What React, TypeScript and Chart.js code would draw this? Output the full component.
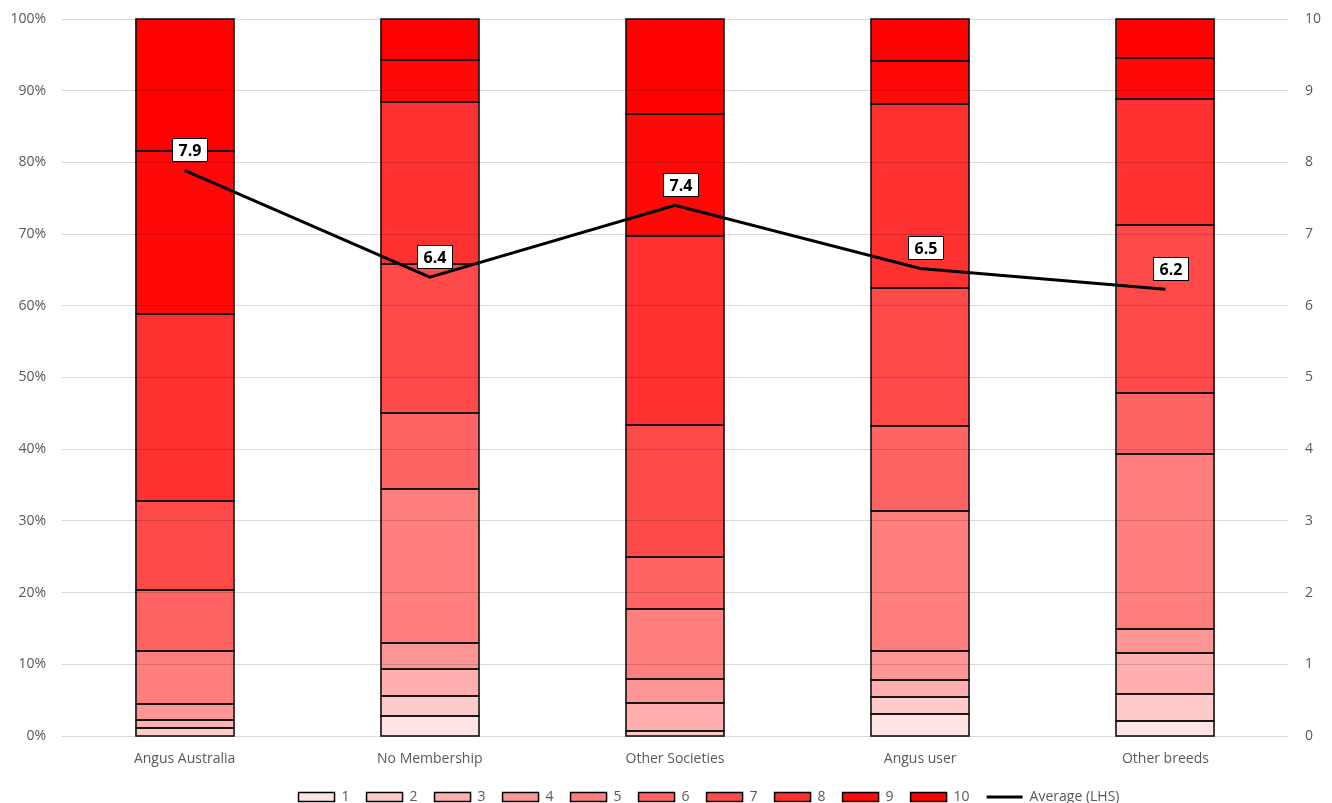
import React, { useEffect, useRef } from "react";
import { Chart, registerables } from "chart.js";

Chart.register(...registerables);

const categories = ["Angus Australia", "No Membership", "Other Societies", "Angus user", "Other breeds"];
const scoreLabels = ["1", "2", "3", "4", "5", "6", "7", "8", "9", "10"];
const s1 = [0, 2.8, 0, 3.0, 2.1];
const s2 = [1.1, 2.8, 0.7, 2.5, 3.8];
const s3 = [1.1, 3.8, 3.9, 2.3, 5.7];
const s4 = [2.2, 3.6, 3.3, 4.0, 3.3];
const s5 = [7.4, 21.5, 9.8, 19.6, 24.4];
const s6 = [8.6, 10.6, 7.3, 11.8, 8.6];
const s7 = [12.4, 20.7, 18.4, 19.3, 23.3];
const s8 = [26.1, 22.6, 26.3, 25.6, 17.6];
const s9 = [22.7, 5.9, 17.1, 6.1, 5.8];
const s10 = [18.4, 5.7, 13.2, 5.8, 5.4];
const averages = [7.89, 6.4, 7.4, 6.52, 6.23];
const averageLabels = ["7.9", "6.4", "7.4", "6.5", "6.2"];
const leftTicks = [0, 10, 20, 30, 40, 50, 60, 70, 80, 90, 100];
const rightTicks = [0, 1, 2, 3, 4, 5, 6, 7, 8, 9, 10];

const seriesValues = [s1, s2, s3, s4, s5, s6, s7, s8, s9, s10];
const seriesColors = [
  "#FFE4E4", "#FFCACA", "#FFAFAF", "#FF9696", "#FF7E7E",
  "#FF6464", "#FF4A4A", "#FF3030", "#FF0808", "#FF0000",
];

const FONT = "'Open Sans', 'Liberation Sans', sans-serif";

const borderPlugin = {
  id: "barBorders",
  afterLayout(chart: any) {
    if (chart.legend) {
      chart.legend.left += 86;
    }
  },
  afterDatasetsDraw(chart: any) {
    const ctx = chart.ctx;
    ctx.save();
    ctx.strokeStyle = "#111111";
    ctx.lineWidth = 1.6;
    chart.data.datasets.forEach((ds: any, di: number) => {
      if (ds.type !== "bar") return;
      const meta = chart.getDatasetMeta(di);
      meta.data.forEach((el: any, i: number) => {
        if (!ds.data[i]) return;
        const p = el.getProps(["x", "y", "base", "width"], true);
        const x0 = Math.round(p.x - p.width / 2);
        const x1 = Math.round(p.x + p.width / 2);
        const y0 = Math.round(Math.min(p.y, p.base));
        const y1 = Math.round(Math.max(p.y, p.base));
        ctx.strokeRect(x0, y0, x1 - x0, y1 - y0);
      });
    });
    ctx.restore();
  },
};

const labelPlugin = {
  id: "avgLabels",
  afterDraw(chart: any) {
    const idx = chart.data.datasets.length - 1;
    const meta = chart.getDatasetMeta(idx);
    const ctx = chart.ctx;
    ctx.save();
    ctx.font = `bold 16px ${FONT}`;
    ctx.textAlign = "center";
    ctx.textBaseline = "middle";
    meta.data.forEach((pt: any, i: number) => {
      const cx = pt.x + 5;
      const cy = pt.y - 21;
      const w = 35;
      const h = 23;
      const x0 = Math.round(cx - w / 2) + 0.5;
      const y0 = Math.round(cy - h / 2) + 0.5;
      ctx.fillStyle = "#ffffff";
      ctx.fillRect(x0, y0, w, h);
      ctx.strokeStyle = "#000000";
      ctx.lineWidth = 1;
      ctx.strokeRect(x0, y0, w, h);
      ctx.fillStyle = "#000000";
      ctx.fillText(averageLabels[i], x0 + w / 2, y0 + h / 2 + 1);
    });
    ctx.restore();
  },
};

export default function App() {
  const ref = useRef<HTMLCanvasElement | null>(null);
  useEffect(() => {
    document.body.style.margin = "0";
    document.body.style.overflow = "hidden";
    if (!ref.current) return;
    const barSets: any[] = seriesValues.map((vals, i) => ({
      type: "bar",
      label: scoreLabels[i],
      data: vals,
      backgroundColor: seriesColors[i],
      borderColor: "#000000",
      borderWidth: 0,
      inflateAmount: 0,
      stack: "s",
      yAxisID: "y",
      order: 1,
      categoryPercentage: 1,
      barPercentage: 0.4,
      pointStyle: "rect",
    }));
    const lineSet: any = {
      type: "line",
      label: "Average (LHS)",
      data: averages,
      borderColor: "#000000",
      backgroundColor: "#000000",
      borderWidth: 3,
      pointRadius: 0,
      yAxisID: "y1",
      order: 0,
      pointStyle: "line",
    };
    const tickFont = { family: FONT, size: 14 };
    const defaultGen = (Chart as any).defaults.plugins.legend.labels.generateLabels;
    const chart = new Chart(ref.current, {
      type: "bar",
      data: { labels: categories, datasets: [...barSets, lineSet] },
      options: {
        animation: false,
        responsive: false,
        maintainAspectRatio: false,
        layout: { padding: { left: 0, right: 0, top: 19, bottom: -11 } },
        plugins: {
          tooltip: { enabled: false },
          legend: {
            position: "bottom",
            labels: {
              usePointStyle: true,
              pointStyleWidth: 36,
              boxHeight: 9,
              color: "#595959",
              font: tickFont,
              padding: 17,
              sort: (a: any, b: any) => a.datasetIndex - b.datasetIndex,
              generateLabels: (c: any) =>
                defaultGen(c).map((item: any) => {
                  if (item.pointStyle === "rect") {
                    item.lineWidth = 1.5;
                    item.strokeStyle = "#000000";
                  }
                  return item;
                }),
            },
          },
        },
        scales: {
          x: {
            stacked: true,
            grid: { display: false },
            border: { display: false },
            ticks: { color: "#595959", font: tickFont, padding: 7 },
            afterFit: (axis: any) => {
              axis.height = 37;
            },
          },
          y: {
            stacked: true,
            min: 0,
            max: 100,
            afterBuildTicks: (axis: any) => {
              axis.ticks = leftTicks.map((v) => ({ value: v }));
            },
            afterFit: (axis: any) => {
              axis.width = 62;
              axis.paddingTop = 0;
              axis.paddingBottom = 0;
            },
            ticks: {
              color: "#595959",
              font: tickFont,
              padding: 16,
              callback: (v: any) => v + "%",
            },
            grid: { color: "rgba(0,0,0,0.15)", drawTicks: false, z: 1 },
            border: { display: false },
          },
          y1: {
            position: "right",
            min: 0,
            max: 10,
            afterBuildTicks: (axis: any) => {
              axis.ticks = rightTicks.map((v) => ({ value: v }));
            },
            afterFit: (axis: any) => {
              axis.width = 44;
              axis.paddingTop = 0;
              axis.paddingBottom = 0;
            },
            ticks: { color: "#595959", font: tickFont, padding: 17 },
            grid: { display: false, drawTicks: false },
            border: { display: false },
          },
        },
      } as any,
      plugins: [borderPlugin, labelPlugin],
    });
    return () => chart.destroy();
  }, []);
  return (
    <div style={{ width: 1332, height: 803 }}>
      <canvas ref={ref} width={1332} height={803} style={{ display: "block" }} />
    </div>
  );
}
